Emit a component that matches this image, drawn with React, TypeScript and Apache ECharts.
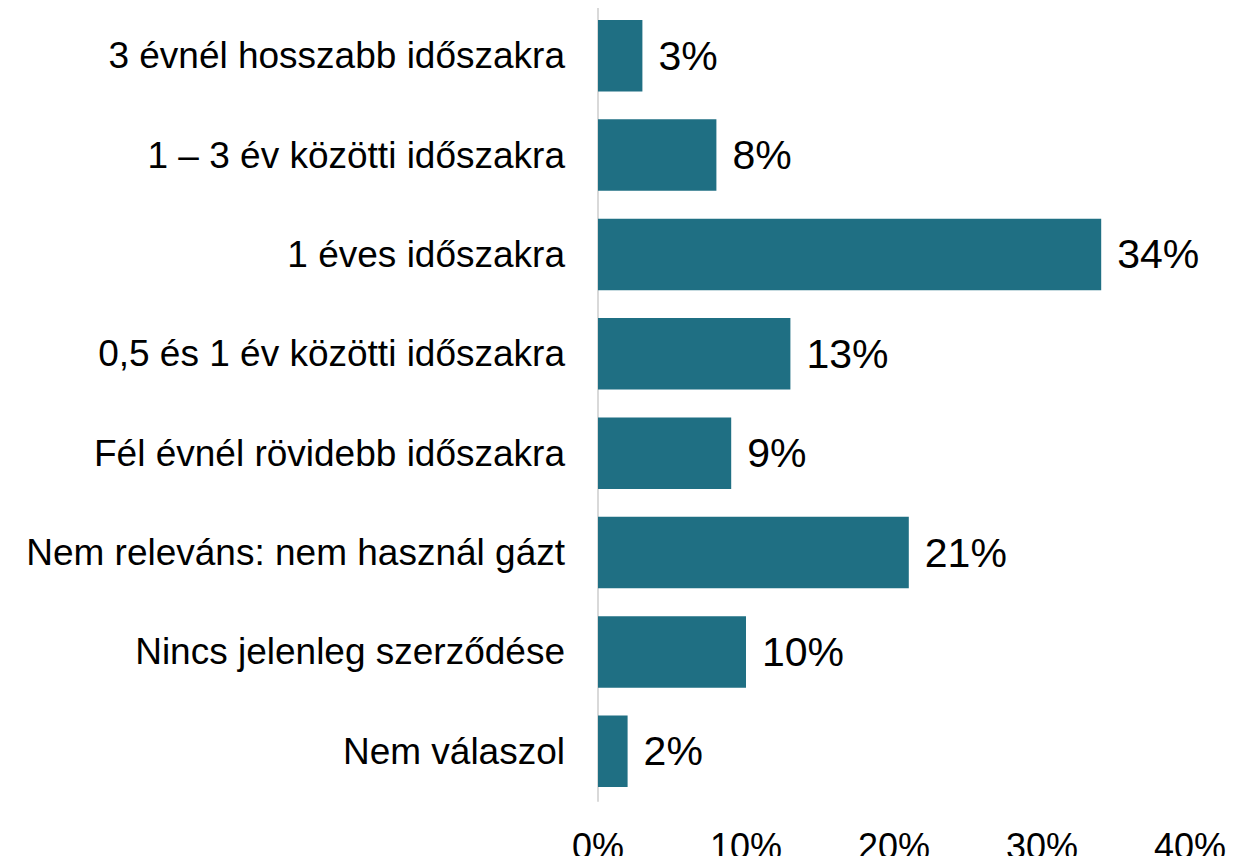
import React, { useEffect, useRef } from "react";
import * as echarts from "echarts";

const categories = [
  "3 évnél hosszabb időszakra",
  "1 – 3 év közötti időszakra",
  "1 éves időszakra",
  "0,5 és 1 év közötti időszakra",
  "Fél évnél rövidebb időszakra",
  "Nem releváns: nem használ gázt",
  "Nincs jelenleg szerződése",
  "Nem válaszol",
];
const values = [3, 8, 34, 13, 9, 21, 10, 2];
const axisMin = 0;
const axisMax = 40;
const axisStep = 10;

export default function App() {
  const ref = useRef<HTMLDivElement>(null);
  useEffect(() => {
    if (!ref.current) return;
    const chart = echarts.init(ref.current, null, { renderer: "svg" });
    const font = "Liberation Sans, Arial, sans-serif";
    chart.setOption({
      animation: false,
      backgroundColor: "#ffffff",
      grid: { left: 598, right: 61, top: 6, bottom: 58, containLabel: false },
      xAxis: {
        type: "value",
        min: axisMin,
        max: axisMax,
        interval: axisStep,
        axisLine: { show: false },
        axisTick: { show: false },
        splitLine: { show: false },
        axisLabel: {
          formatter: "{value}%",
          fontSize: 36,
          fontFamily: font,
          color: "#000000",
          margin: 27,
        },
      },
      yAxis: {
        type: "category",
        data: categories,
        inverse: true,
        axisLine: { show: true, lineStyle: { color: "#d9d9d9", width: 2 } },
        axisTick: { show: false },
        axisLabel: {
          fontSize: 37,
          fontFamily: font,
          color: "#000000",
          margin: 33,
        },
      },
      series: [
        {
          type: "bar",
          data: values,
          barWidth: "72%",
          itemStyle: { color: "#1f6f83" },
          label: {
            show: true,
            position: "right",
            distance: 16,
            formatter: "{c}%",
            fontSize: 41,
            fontFamily: font,
            color: "#000000",
          },
        },
      ],
    });
    return () => chart.dispose();
  }, []);
  return <div ref={ref} style={{ width: 1251, height: 864, margin: -8 }} />;
}
